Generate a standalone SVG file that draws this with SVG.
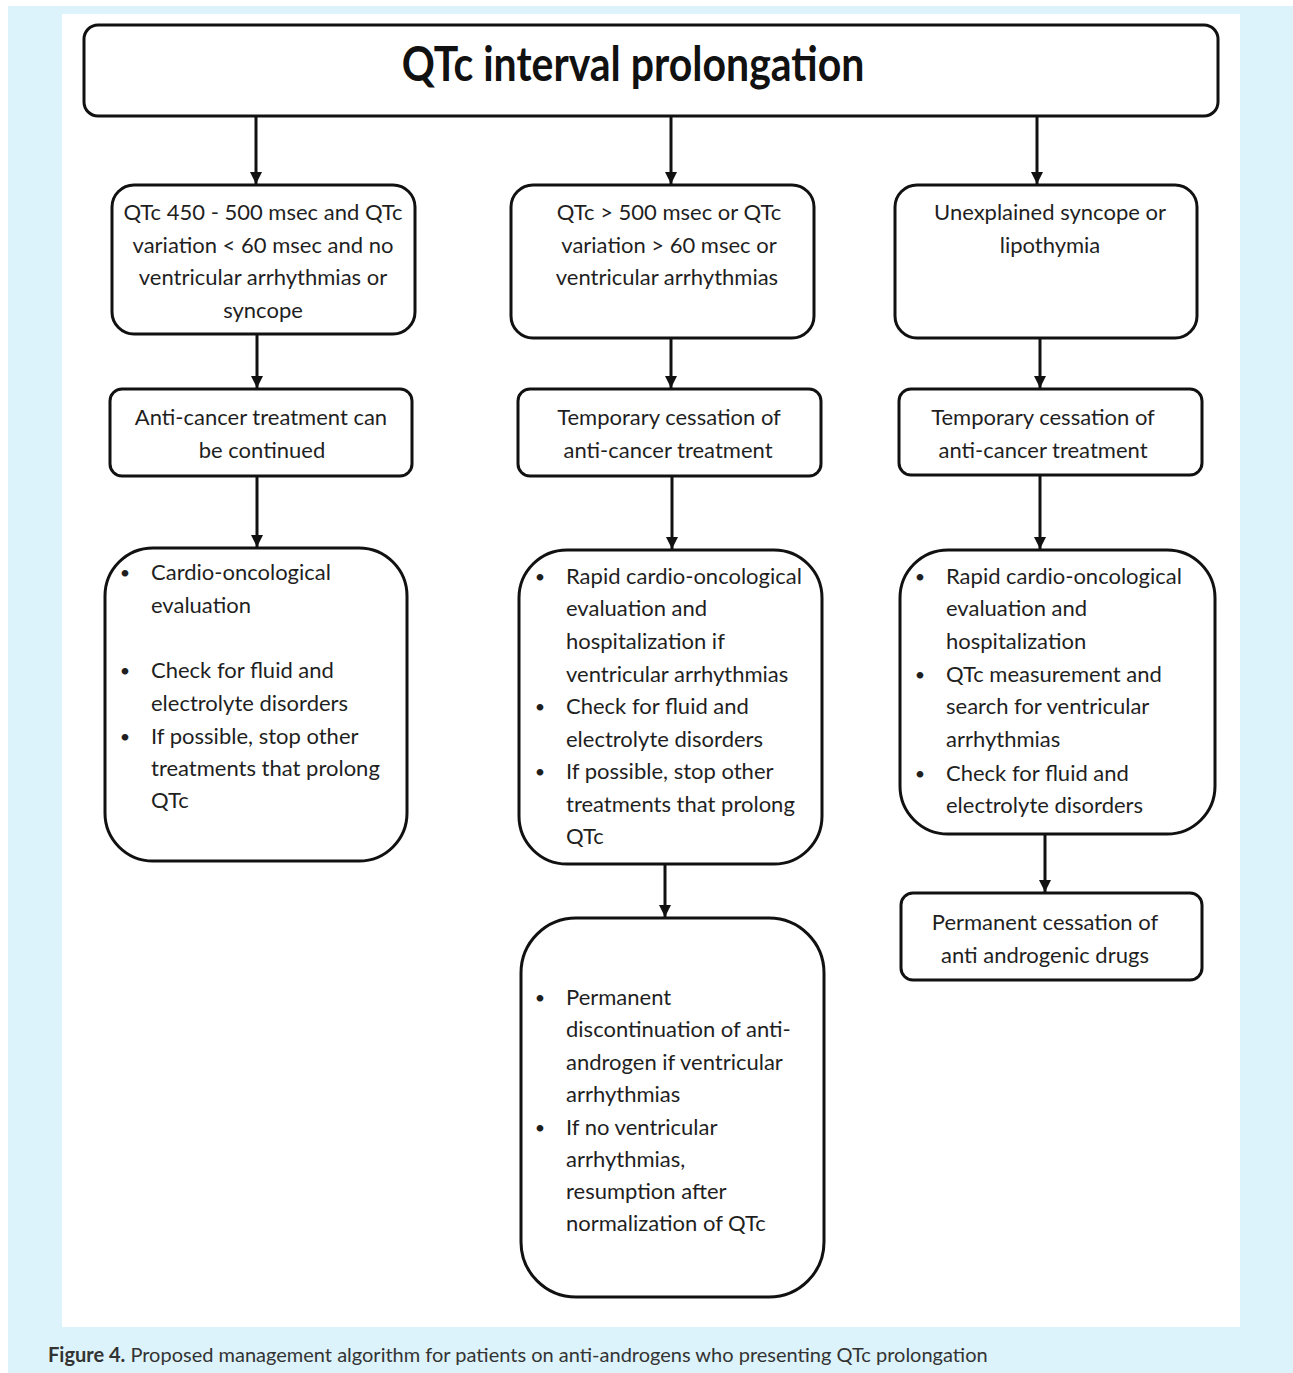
<svg xmlns="http://www.w3.org/2000/svg" width="1293" height="1373" viewBox="0 0 1293 1373">
<defs>
<style>
.bg{fill:#ddf3fb}
.panel{fill:#ffffff}
.box{fill:#ffffff;stroke:#111111;stroke-width:3}
.t{font-family:Lato,"Open Sans","Liberation Sans",sans-serif;font-size:22px;fill:#1f1f1f}
.c{text-anchor:middle}
.b{text-anchor:middle;font-size:18px}
.title{font-family:Lato,"Open Sans","Liberation Sans",sans-serif;font-size:41px;font-weight:bold;fill:#111111;text-anchor:middle}
.cap{font-family:Lato,"Liberation Sans",sans-serif;font-size:20px;fill:#333333}
.conn line{stroke:#111111;stroke-width:3;marker-end:url(#arr)}
</style>
<marker id="arr" viewBox="0 0 10 10" refX="10" refY="5" markerWidth="4" markerHeight="4.5" orient="auto" markerUnits="strokeWidth">
<path d="M0,0 L10,5 L0,10 Z" fill="#111111"/>
</marker>
</defs>
<rect x="0" y="0" width="1293" height="1373" fill="#ffffff"/>
<rect class="bg" x="8" y="6" width="1285" height="1367"/>
<rect class="panel" x="62" y="14" width="1178" height="1313"/>

<g id="title">
<rect class="box" x="84" y="25" width="1134" height="91" rx="14"/>
<text class="title" transform="translate(633,81) scale(1,1.15)" x="0" y="0">QTc interval prolongation</text>
</g>

<g id="a1">
<rect class="box" x="112" y="185" width="303" height="149" rx="22"/>
<text class="t c" x="263" y="220">QTc 450 - 500 msec and QTc</text>
<text class="t c" x="263" y="253">variation &lt; 60 msec and no</text>
<text class="t c" x="263" y="285">ventricular arrhythmias or</text>
<text class="t c" x="263" y="318">syncope</text>
</g>
<g id="b1">
<rect class="box" x="511" y="185" width="303" height="153" rx="22"/>
<text class="t c" x="669" y="220">QTc &gt; 500 msec or QTc</text>
<text class="t c" x="669" y="253">variation &gt; 60 msec or</text>
<text class="t c" x="667" y="285">ventricular arrhythmias</text>
</g>
<g id="c1">
<rect class="box" x="895" y="185" width="302" height="153" rx="22"/>
<text class="t c" x="1050" y="220">Unexplained syncope or</text>
<text class="t c" x="1050" y="253">lipothymia</text>
</g>

<g id="a2">
<rect class="box" x="110" y="389" width="302" height="87" rx="12"/>
<text class="t c" x="261" y="425">Anti-cancer treatment can</text>
<text class="t c" x="262" y="458">be continued</text>
</g>
<g id="b2">
<rect class="box" x="518" y="389" width="303" height="87" rx="12"/>
<text class="t c" x="669" y="425">Temporary cessation of</text>
<text class="t c" x="668" y="458">anti-cancer treatment</text>
</g>
<g id="c2">
<rect class="box" x="899" y="389" width="303" height="86" rx="12"/>
<text class="t c" x="1043" y="425">Temporary cessation of</text>
<text class="t c" x="1043" y="458">anti-cancer treatment</text>
</g>

<g id="a3">
<rect class="box" x="105" y="548" width="302" height="313" rx="48"/>
<text class="t b" x="125" y="579">•</text>
<text class="t" x="151" y="580">Cardio-oncological</text>
<text class="t" x="151" y="613">evaluation</text>
<text class="t b" x="125" y="677">•</text>
<text class="t" x="151" y="678">Check for fluid and</text>
<text class="t" x="151" y="711">electrolyte disorders</text>
<text class="t b" x="125" y="743">•</text>
<text class="t" x="151" y="744">If possible, stop other</text>
<text class="t" x="151" y="776">treatments that prolong</text>
<text class="t" x="151" y="808">QTc</text>
</g>
<g id="b3">
<rect class="box" x="519" y="550" width="303" height="314" rx="48"/>
<text class="t b" x="540" y="583">•</text>
<text class="t" x="566" y="584">Rapid cardio-oncological</text>
<text class="t" x="566" y="616">evaluation and</text>
<text class="t" x="566" y="649">hospitalization if</text>
<text class="t" x="566" y="682">ventricular arrhythmias</text>
<text class="t b" x="540" y="713">•</text>
<text class="t" x="566" y="714">Check for fluid and</text>
<text class="t" x="566" y="747">electrolyte disorders</text>
<text class="t b" x="540" y="778">•</text>
<text class="t" x="566" y="779">If possible, stop other</text>
<text class="t" x="566" y="812">treatments that prolong</text>
<text class="t" x="566" y="844">QTc</text>
</g>
<g id="c3">
<rect class="box" x="900" y="550" width="315" height="284" rx="48"/>
<text class="t b" x="920" y="583">•</text>
<text class="t" x="946" y="584">Rapid cardio-oncological</text>
<text class="t" x="946" y="616">evaluation and</text>
<text class="t" x="946" y="649">hospitalization</text>
<text class="t b" x="920" y="681">•</text>
<text class="t" x="946" y="682">QTc measurement and</text>
<text class="t" x="946" y="714">search for ventricular</text>
<text class="t" x="946" y="747">arrhythmias</text>
<text class="t b" x="920" y="780">•</text>
<text class="t" x="946" y="781">Check for fluid and</text>
<text class="t" x="946" y="813">electrolyte disorders</text>
</g>

<g id="b4">
<rect class="box" x="521" y="918" width="303" height="379" rx="55"/>
<text class="t b" x="540" y="1004">•</text>
<text class="t" x="566" y="1005">Permanent</text>
<text class="t" x="566" y="1037">discontinuation of anti-</text>
<text class="t" x="566" y="1070">androgen if ventricular</text>
<text class="t" x="566" y="1102">arrhythmias</text>
<text class="t b" x="540" y="1134">•</text>
<text class="t" x="566" y="1135">If no ventricular</text>
<text class="t" x="566" y="1167">arrhythmias,</text>
<text class="t" x="566" y="1199">resumption after</text>
<text class="t" x="566" y="1231">normalization of QTc</text>
</g>
<g id="c4">
<rect class="box" x="901" y="893" width="301" height="87" rx="12"/>
<text class="t c" x="1045" y="930">Permanent cessation of</text>
<text class="t c" x="1045" y="963">anti androgenic drugs</text>
</g>

<g id="connectors" class="conn">
<line x1="256" y1="117" x2="256" y2="184"/>
<line x1="671" y1="117" x2="671" y2="184"/>
<line x1="1037" y1="117" x2="1037" y2="184"/>
<line x1="257" y1="335" x2="257" y2="388"/>
<line x1="671" y1="339" x2="671" y2="388"/>
<line x1="1040" y1="339" x2="1040" y2="388"/>
<line x1="257" y1="477" x2="257" y2="547"/>
<line x1="672" y1="477" x2="672" y2="549"/>
<line x1="1040" y1="476" x2="1040" y2="549"/>
<line x1="665" y1="865" x2="665" y2="917"/>
<line x1="1045" y1="835" x2="1045" y2="892"/>
</g>

<text class="cap" x="48" y="1362"><tspan font-weight="bold">Figure 4.</tspan> Proposed management algorithm for patients on anti-androgens who presenting QTc prolongation</text>
</svg>
